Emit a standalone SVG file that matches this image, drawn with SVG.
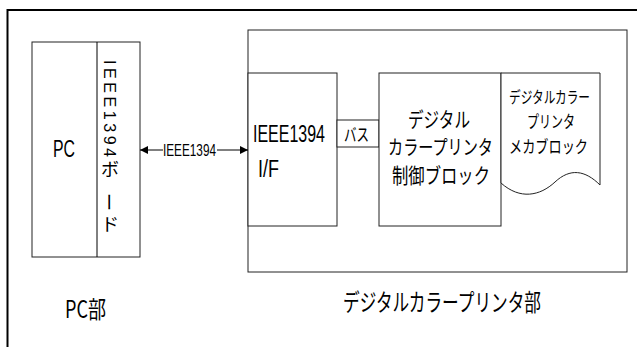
<svg xmlns="http://www.w3.org/2000/svg" width="637" height="347" viewBox="0 0 637 347">
<style>
.box{fill:#fff;stroke:#222;stroke-width:1}
.lat{font-family:"Liberation Sans",Arial,sans-serif;fill:#000}
.jp{font-family:"Noto Sans CJK JP","Liberation Sans",sans-serif;fill:#000}
.ln{stroke:#000;stroke-width:1;fill:none}
</style>
<defs>
<marker id="ah" markerUnits="userSpaceOnUse" markerWidth="8" markerHeight="8" refX="8" refY="4" orient="auto">
<path d="M0,0 L8,4 L0,8 z" fill="#000"/>
</marker>
</defs>
<rect width="637" height="347" fill="#fff"/>
<path d="M7.5,347 V10 H637" fill="none" stroke="#000" stroke-width="2"/>

<g id="pc">
<rect class="box" x="32" y="42" width="108" height="215"/>
<line class="ln" x1="97" y1="42" x2="97" y2="257"/>
<text class="lat" transform="translate(53,157) scale(1,1.48)" font-size="16" textLength="22" lengthAdjust="spacingAndGlyphs">PC</text>
</g>
<g id="board">
<text class="lat" transform="translate(104,60) rotate(90)" font-size="16" textLength="97" lengthAdjust="spacing">IEEE1394</text>
<text class="jp" x="110" y="176" font-size="18" text-anchor="middle">ボ</text>
<text class="jp" transform="translate(110,202) rotate(90)" font-size="18" text-anchor="middle" dominant-baseline="central">ー</text>
<text class="jp" x="110" y="231" font-size="18" text-anchor="middle">ド</text>
</g>
<g id="printer">
<rect class="box" x="248" y="30" width="379" height="242"/>
</g>
<g id="if">
<rect class="box" x="248" y="73" width="89" height="153"/>
<text class="lat" transform="translate(253,142) scale(1,1.5)" font-size="16" textLength="72" lengthAdjust="spacingAndGlyphs">IEEE1394</text>
<text class="lat" transform="translate(258,177) scale(1,1.5)" font-size="16" textLength="21" lengthAdjust="spacingAndGlyphs">I/F</text>
</g>
<g id="bus">
<rect class="box" x="337" y="120" width="42" height="27"/>
<text class="jp" transform="translate(344,141) scale(1,1.4)" font-size="12.5" textLength="25" lengthAdjust="spacingAndGlyphs">バス</text>
</g>
<g id="control">
<rect class="box" x="379" y="73" width="122" height="153"/>
<text class="jp" transform="translate(408,127) scale(1,1.35)" font-size="15.5" textLength="62" lengthAdjust="spacingAndGlyphs">デジタル</text>
<text class="jp" transform="translate(388,155) scale(1,1.35)" font-size="15" textLength="105" lengthAdjust="spacingAndGlyphs">カラープリンタ</text>
<text class="jp" transform="translate(392,183) scale(1,1.35)" font-size="15.5" textLength="98" lengthAdjust="spacingAndGlyphs">制御ブロック</text>
</g>
<g id="mech">
<path class="box" d="M501,73 H600 V185 C585,170 570,168 555,182 C540,196 520,200 501,183 Z"/>
<text class="jp" transform="translate(509,103) scale(1,1.4)" font-size="11.6" textLength="81" lengthAdjust="spacingAndGlyphs">デジタルカラー</text>
<text class="jp" transform="translate(527,128) scale(1,1.4)" font-size="12" textLength="48" lengthAdjust="spacingAndGlyphs">プリンタ</text>
<text class="jp" transform="translate(509,153) scale(1,1.4)" font-size="12.5" textLength="79" lengthAdjust="spacingAndGlyphs">メカブロック</text>
</g>
<g id="connectors">
<line class="ln" x1="163" y1="150" x2="140" y2="150" marker-end="url(#ah)"/>
<line class="ln" x1="217" y1="150" x2="248" y2="150" marker-end="url(#ah)"/>
<text class="lat" transform="translate(163,156) scale(1,1.45)" font-size="12" textLength="53" lengthAdjust="spacingAndGlyphs">IEEE1394</text>
</g>
<g id="labels">
<text class="jp" transform="translate(65,318) scale(1,1.4)" font-size="17" textLength="41" lengthAdjust="spacingAndGlyphs">PC部</text>
<text class="jp" transform="translate(343,311) scale(1,1.45)" font-size="16.5" textLength="198" lengthAdjust="spacingAndGlyphs">デジタルカラープリンタ部</text>
</g>
</svg>
